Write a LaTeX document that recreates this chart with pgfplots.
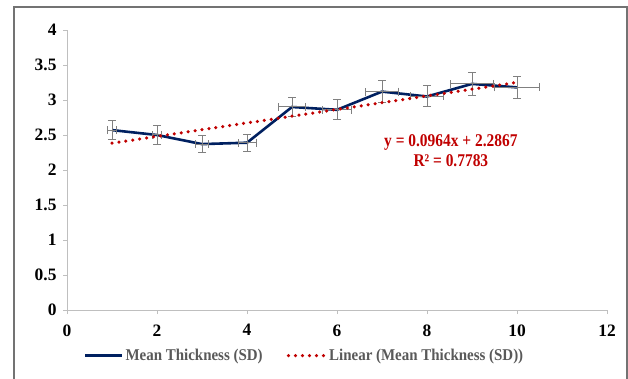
\documentclass[border=0pt]{standalone}
\usepackage{fontspec}
\setmainfont{Liberation Serif}
\newfontfamily\condA{Liberation Serif}
\newfontfamily\condB[FakeStretch=0.91]{Liberation Serif}
\newfontfamily\condC[FakeStretch=0.86]{Liberation Serif}
\usepackage{pgfplots}
\pgfplotsset{compat=1.18}
\definecolor{navy}{RGB}{0,32,96}
\definecolor{trend}{RGB}{192,0,0}
\definecolor{eb}{RGB}{128,128,128}
\begin{document}
\begin{tikzpicture}
\useasboundingbox (0bp,0bp) rectangle (628bp,379bp);
\draw[line width=1.2bp, color=black!55] (14bp,-10bp) -- (14bp,372bp) -- (627bp,372bp) -- (627bp,-10bp);
\begin{axis}[
  at={(67bp,69bp)}, anchor=origin,
  scale only axis, width=540bp, height=280bp,
  xmin=0, xmax=12, ymin=0, ymax=4,
  axis lines=left,
  axis line style={-, color=black!25, line width=0.8bp},
  xtick={0,2,...,12}, ytick={0,0.5,...,4},
  tick style={color=black!25, line width=0.8bp},
  tick align=outside, major tick length=4bp,
  tick label style={font=\condA\bfseries\fontsize{17.5}{18}\selectfont},
  /pgf/number format/assume math mode=true,
  yticklabel style={/pgf/number format/fixed, xshift=-3bp},
  xticklabel style={yshift=-7bp},
  legend style={at={(0.44,-0.125)}, anchor=north, draw=none, fill=none,
    font=\condB\bfseries\fontsize{16.5}{17}\selectfont\color{black!65},
    /tikz/every even column/.append style={column sep=22bp}},
  legend columns=2,
  legend image code/.code={\draw[#1] (0bp,0bp) -- (37bp,0bp);},
  clip=false,
]
\addplot[color=navy, line width=2.6bp, mark=none,
  error bars/.cd, x dir=both, x explicit, y dir=both, y explicit,
  error bar style={color=eb, line width=1bp},
  error mark options={rotate=90, mark size=4bp, line width=1bp, color=eb}]
coordinates {
(1,2.57) +- (0.09,0.13)
(2,2.50) +- (0.10,0.13)
(3,2.37) +- (0.15,0.12)
(4,2.39) +- (0.20,0.12)
(5,2.90) +- (0.30,0.14)
(6,2.86) +- (0.33,0.14)
(7,3.12) +- (0.37,0.16)
(8,3.05) +- (0.37,0.15)
(9,3.23) +- (0.48,0.16)
(10,3.18) +- (0.50,0.16)
};
\addlegendentry{Mean Thickness (SD)}
\addplot[color=trend, line width=3.5bp, line cap=round, dash pattern=on 0bp off 7bp, mark=none]
coordinates {(1,2.3831) (10,3.2507)};
\addlegendentry{Linear (Mean Thickness (SD))}
\node[color=trend, font=\condC\bfseries\fontsize{18}{20}\selectfont, align=center] at (axis cs:8.53,2.27) {y = 0.0964x + 2.2867\\R² = 0.7783};
\end{axis}
\end{tikzpicture}
\end{document}
